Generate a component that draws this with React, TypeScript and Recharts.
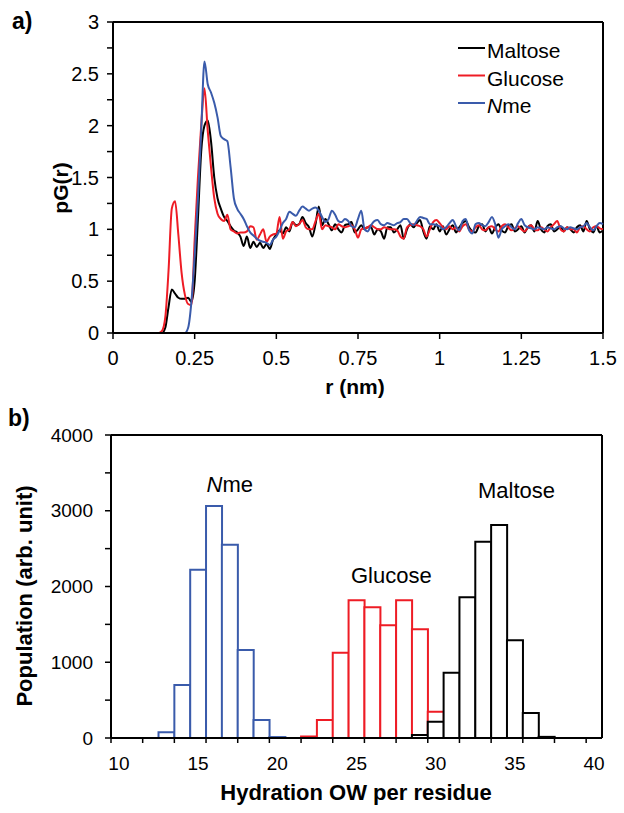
import {
  LineChart, Line, BarChart, Bar, XAxis, YAxis, ReferenceLine, ReferenceDot, Legend,
} from 'recharts';

const FONT = '"Liberation Sans", Arial, Helvetica, sans-serif';
const BLACK = '#000000';
const RED = '#ee1c25';
const BLUE = '#3a5bab';

// ---- a) pG(r), sampled every 0.01 nm from 0 to 1.5 nm ----
const R_STEP = 0.01;

const maltoseG = [
  0, 0, 0, 0, 0, 0, 0, 0, 0, 0,
  0, 0, 0, 0, 0, 0, 0.05, 0.25, 0.42, 0.38,
  0.34, 0.33, 0.33, 0.34, 0.3, 0.5, 1.1, 1.75, 2.0, 2.05,
  1.85, 1.5, 1.3, 1.2, 1.12, 1.08, 1.03, 0.99, 0.97, 0.93,
  0.84, 0.93, 0.82, 0.88, 0.83, 0.87, 0.82, 0.86, 0.81, 0.9,
  0.95, 0.99, 0.96, 1.02, 0.98, 1.07, 1.04, 1.05, 1.12, 1.06,
  1.02, 0.93, 1.05, 1.22, 1.04, 1.1, 1.05, 0.99, 1.05, 1.0,
  0.97, 1.04, 1.05, 1.07, 0.97, 1.0, 1.04, 1.0, 1.02, 1.02,
  0.95, 1.0, 0.98, 0.91, 1.02, 1.02, 0.97, 1.0, 1.04, 0.91,
  1.0, 1.05, 1.02, 1.06, 1.09, 0.98, 0.91, 1.03, 1.0, 1.05,
  0.98, 1.03, 0.95, 1.0, 1.04, 0.97, 1.02, 1.06, 1.08, 1.02,
  0.98, 0.97, 1.03, 1.05, 0.98, 1.02, 0.96, 1.02, 1.05, 0.99,
  0.97, 1.03, 1.05, 0.98, 1.0, 1.03, 0.97, 1.02, 1.04, 0.98,
  1.08, 1.0, 0.97, 1.03, 1.05, 0.98, 1.0, 1.03, 0.98, 1.02,
  1.0, 0.97, 1.02, 1.04, 0.98, 1.08, 1.0, 0.97, 1.03, 0.97,
  0.99,
];

const glucoseG = [
  0, 0, 0, 0, 0, 0, 0, 0, 0, 0,
  0, 0, 0, 0, 0, 0.02, 0.15, 0.6, 1.2, 1.27,
  0.95, 0.58, 0.37, 0.28, 0.27, 0.9, 1.5, 2.0, 2.36, 1.95,
  1.6, 1.3, 1.15, 1.1, 1.08, 1.14, 1.0, 0.98, 0.96, 0.97,
  0.97, 0.98, 1.03, 1.02, 0.9, 0.95, 1.0, 0.88, 0.93, 0.95,
  0.96, 1.12, 0.91, 0.98, 1.0, 1.07, 1.03, 1.05, 1.09, 1.02,
  1.0, 1.0, 1.08, 1.15, 1.0, 1.04, 1.03, 1.02, 1.0, 1.05,
  1.03, 1.02, 1.03, 1.04, 1.0, 0.92, 1.0, 1.01, 1.02, 1.04,
  1.02, 1.0, 1.0, 1.02, 1.01, 1.0, 1.0, 0.99, 0.93, 0.91,
  1.02, 1.04, 1.05, 1.04, 1.03, 1.0, 0.93, 1.0, 1.07, 1.09,
  1.06, 1.02, 1.0, 1.03, 1.0, 1.02, 0.98, 1.03, 1.05, 1.0,
  0.98, 1.02, 1.04, 1.0, 0.99, 1.02, 1.03, 1.0, 0.98, 1.03,
  1.05, 1.02, 0.99, 1.01, 1.03, 1.0, 0.98, 1.02, 1.04, 1.0,
  0.99, 1.02, 1.0, 0.98, 1.02, 1.05, 1.08, 1.0, 0.98, 1.02,
  1.0, 1.0, 0.97, 1.02, 1.03, 1.0, 0.98, 1.02, 1.03, 1.01,
  1.0,
];

const nmeG = [
  0, 0, 0, 0, 0, 0, 0, 0, 0, 0,
  0, 0, 0, 0, 0, 0, 0, 0, 0, 0,
  0, 0, 0, 0.05, 0.3, 0.75, 1.3, 1.95, 2.62, 2.4,
  2.32, 2.22, 2.08, 1.9, 1.87, 1.85, 1.6, 1.3, 1.2, 1.15,
  1.1, 1.03, 0.97, 0.94, 0.91, 0.89, 0.88, 0.87, 0.85, 0.9,
  0.93, 0.99, 1.06, 1.1, 1.17, 1.15, 1.13, 1.18, 1.22, 1.2,
  1.18, 1.2, 1.21, 1.18, 1.12, 1.07, 1.1, 1.18, 1.14, 1.08,
  1.07, 1.1, 1.08, 1.03, 1.02, 1.1, 1.18, 1.0, 0.98, 1.04,
  1.08, 1.09, 1.05, 1.04, 1.06, 1.05, 1.04, 1.06, 1.07, 1.1,
  1.1, 1.06, 1.04, 1.08, 1.12, 1.11, 1.1, 1.05, 1.05, 1.04,
  1.03, 1.0, 1.02, 1.06, 1.09, 1.03, 0.99, 1.08, 1.1, 0.99,
  0.96, 1.05, 1.06, 1.04, 1.03, 1.07, 1.12, 1.05, 0.92, 1.0,
  1.03, 1.05, 1.02, 1.0, 1.06, 1.1, 1.04, 1.02, 1.01, 1.0,
  1.02, 1.01, 1.0, 1.02, 1.01, 1.0, 1.02, 1.03, 1.01, 1.0,
  1.02, 1.01, 1.0, 1.02, 1.03, 1.06, 1.02, 0.99, 1.03, 1.06,
  1.05,
];

const rTicks = [0, 0.25, 0.5, 0.75, 1, 1.25, 1.5];
const gTicks = [0, 0.25, 0.5, 0.75, 1, 1.25, 1.5, 1.75, 2, 2.25, 2.5, 2.75, 3];
const legendOrder = ['Maltose', 'Glucose', 'Nme'];

// ---- b) hydration histogram, one bin per integer ----
const hydration = [
  10, 11, 12, 13, 14, 15, 16, 17, 18, 19, 20, 21, 22, 23, 24, 25,
  26, 27, 28, 29, 30, 31, 32, 33, 34, 35, 36, 37, 38, 39, 40,
];
const n = null;
const nmePop = [
  n, n, n, 75, 700, 2222, 3063, 2552, 1162, 238, 12, n, n, n, n, n,
  n, n, n, n, n, n, n, n, n, n, n, n, n, n, n,
];
const glucosePop = [
  n, n, n, n, n, n, n, n, n, n, n, n, 20, 238, 1126, 1818,
  1725, 1487, 1818, 1435, 347, n, n, n, n, n, n, n, n, n, n,
];
const maltosePop = [
  n, n, n, n, n, n, n, n, n, n, n, n, n, n, n, n,
  n, n, n, 40, 215, 862, 1857, 2592, 2812, 1290, 330, 15, n, n, n,
];
const hydrationLabels = [10, 15, 20, 25, 30, 35, 40];
const hydrationTickMarks = [9.5, 11.5, 13.5, 15.5, 17.5, 19.5, 21.5, 23.5, 25.5, 27.5, 29.5, 31.5, 33.5, 35.5, 37.5, 39.5];
const popTicks = [0, 500, 1000, 1500, 2000, 2500, 3000, 3500, 4000];

// annotation text: [label, x, y] in data units (y = text baseline)
const histNotes: [string, number, number][] = [
  ['Nme', 17.0, 3250],
  ['Glucose', 27.2, 2046],
  ['Maltose', 35.1, 3168],
];

const rdfData = maltoseG.map((m, i) => ({
  r: +(i * R_STEP).toFixed(2),
  Maltose: m,
  Glucose: glucoseG[i],
  Nme: nmeG[i],
}));

const histData = hydration.map((x, i) => ({
  x,
  Nme: nmePop[i],
  Glucose: glucosePop[i],
  Maltose: maltosePop[i],
}));

const histTicks = [...hydrationLabels, ...hydrationTickMarks].sort((a, b) => a - b);

const axisLine = { stroke: BLACK, strokeWidth: 2 };
const tickLine = { stroke: BLACK, strokeWidth: 1.5 };

const NmeText = ({ text }: { text: string }) =>
  text === 'Nme' ? <><tspan fontStyle="italic">N</tspan>me</> : <>{text}</>;

function RdfLegend({ payload }: any) {
  const rows = [...(payload ?? [])].sort(
    (a: any, b: any) => legendOrder.indexOf(a.value) - legendOrder.indexOf(b.value),
  );
  return (
    <svg width={150} height={90} style={{ fontFamily: FONT }}>
      {rows.map((p: any, i: number) => {
        const base = 23 + i * 27.5;
        return (
          <g key={p.value}>
            <line x1={3} x2={30} y1={base - 10} y2={base - 10} stroke={p.color} strokeWidth={2} />
            <text x={32} y={base} fontSize={21} fill={BLACK}>
              <NmeText text={String(p.value)} />
            </text>
          </g>
        );
      })}
    </svg>
  );
}

function HistTick({ x, y, payload }: any) {
  const v = payload.value;
  if (Number.isInteger(v)) {
    return (
      <text x={x} y={y + 32} textAnchor="middle" fontSize={19} fill={BLACK}>{v}</text>
    );
  }
  return <line x1={x} x2={x} y1={y} y2={y + 5} stroke={BLACK} strokeWidth={1.5} />;
}

function RdfChart() {
  return (
    <LineChart width={624} height={400} data={rdfData} margin={{ top: 22, right: 21, left: 0, bottom: 0 }}>
      <XAxis
        dataKey="r" type="number" domain={[0, 1.5]} ticks={rTicks} interval={0}
        height={67} tickMargin={12} axisLine={axisLine} tickLine={tickLine}
        tick={{ fill: BLACK, fontSize: 20 }}
      />
      <YAxis
        type="number" domain={[0, 3]} ticks={gTicks} interval={0} width={113} tickMargin={8}
        axisLine={axisLine} tickLine={tickLine} tick={{ fill: BLACK, fontSize: 20 }}
        tickFormatter={(v: number) => (Number.isInteger(v * 2) ? String(v) : '')}
      />
      <ReferenceLine y={3} stroke={BLACK} strokeWidth={2} />
      <ReferenceLine x={1.5} stroke={BLACK} strokeWidth={2} />
      <Legend
        layout="horizontal" verticalAlign="middle" align="center"
        wrapperStyle={{ left: 455, top: 35, width: 150 }}
        content={(props: any) => <RdfLegend payload={props.payload} />}
      />
      <Line type="monotone" dataKey="Maltose" stroke={BLACK} strokeWidth={2} dot={false} isAnimationActive={false} />
      <Line type="monotone" dataKey="Glucose" stroke={RED} strokeWidth={2} dot={false} isAnimationActive={false} />
      <Line type="monotone" dataKey="Nme" stroke={BLUE} strokeWidth={2} dot={false} isAnimationActive={false} />
    </LineChart>
  );
}

function HistChart() {
  return (
    <BarChart
      width={624} height={413} data={histData} barCategoryGap={0} barGap={0}
      margin={{ top: 35, right: 22, left: 0, bottom: 0 }}
    >
      <XAxis
        xAxisId="nme" dataKey="x" type="number" domain={[9.5, 40.5]} ticks={histTicks} interval={0}
        height={75} tickSize={0} tickMargin={0} tickLine={false} axisLine={axisLine}
        tick={(p: any) => <HistTick {...p} />}
      />
      <XAxis xAxisId="glu" dataKey="x" type="number" domain={[9.5, 40.5]} height={0} hide />
      <XAxis xAxisId="mal" dataKey="x" type="number" domain={[9.5, 40.5]} height={0} hide />
      <YAxis
        type="number" domain={[0, 4000]} ticks={popTicks} interval={0} width={111} tickMargin={12}
        axisLine={axisLine} tickLine={tickLine} tick={{ fill: BLACK, fontSize: 19 }}
        tickFormatter={(v: number) => (v % 1000 === 0 ? String(v) : '')}
      />
      <ReferenceLine xAxisId="nme" y={4000} stroke={BLACK} strokeWidth={2} />
      <ReferenceLine xAxisId="nme" x={40.5} stroke={BLACK} strokeWidth={2} />
      <Bar xAxisId="nme" dataKey="Nme" fill="#fff" stroke={BLUE} strokeWidth={2} isAnimationActive={false} />
      <Bar xAxisId="glu" dataKey="Glucose" fill="#fff" stroke={RED} strokeWidth={2} isAnimationActive={false} />
      <Bar xAxisId="mal" dataKey="Maltose" fill="#fff" stroke={BLACK} strokeWidth={2} isAnimationActive={false} />
      {histNotes.map(([label, x, y]) => (
        <ReferenceDot
          key={label} xAxisId="nme" x={x} y={y} r={0.5} fill="none" stroke="none"
          label={{
            content: ({ viewBox }: any) => (
              <text
                x={viewBox.x + viewBox.width / 2} y={viewBox.y + viewBox.height / 2}
                textAnchor="middle" fontSize={22} fill={BLACK}
              >
                <NmeText text={label} />
              </text>
            ),
          }}
        />
      ))}
    </BarChart>
  );
}

export default function App() {
  const title = { fontWeight: 'bold' as const, fill: BLACK };
  return (
    <div style={{ position: 'relative', width: 624, height: 813, fontFamily: FONT, background: '#fff' }}>
      <style>{'body{margin:0;background:#fff}'}</style>
      <div style={{ position: 'absolute', left: 0, top: 0 }}>
        <RdfChart />
      </div>
      <div style={{ position: 'absolute', left: 0, top: 400 }}>
        <HistChart />
      </div>
      <svg width={624} height={813} style={{ position: 'absolute', left: 0, top: 0, pointerEvents: 'none' }}>
        <text x={12} y={29} fontSize={23} {...title}>a)</text>
        <text x={8} y={426} fontSize={23} {...title}>b)</text>
        <text x={355} y={394} fontSize={21} textAnchor="middle" {...title}>r (nm)</text>
        <text x={68} y={188} fontSize={21} textAnchor="middle" transform="rotate(-90 68 188)" {...title}>pG(r)</text>
        <text x={356} y={800} fontSize={22} textAnchor="middle" {...title}>Hydration OW per residue</text>
        <text x={32} y={596} fontSize={22} textAnchor="middle" transform="rotate(-90 32 596)" {...title}>
          Population (arb. unit)
        </text>
      </svg>
    </div>
  );
}
